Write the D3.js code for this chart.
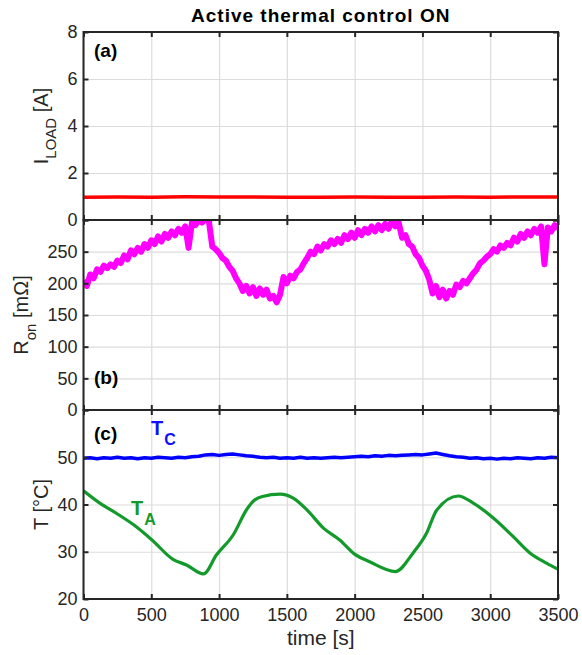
<!DOCTYPE html>
<html>
<head>
<meta charset="utf-8">
<script src="https://cdn.jsdelivr.net/npm/d3@7"></script>
<style>
  body { margin: 0; background: #fff; }
  svg { font-family: "Liberation Sans", Arial, Helvetica, sans-serif; }
</style>
</head>
<body>
<svg width="582" height="655"></svg>
<script>
// time ticks shared by all three panels
const timeTicks = [0, 500, 1000, 1500, 2000, 2500, 3000, 3500];

// (a) load current, sampled every 250 s
const loadTime = [0, 250, 500, 750, 1000, 1250, 1500, 1750, 2000, 2250, 2500, 2750, 3000, 3250, 3500];
const loadCurrent = [0.97, 0.98, 0.97, 0.99, 0.98, 0.98, 0.97, 0.97, 0.98, 0.97, 0.97, 0.98, 0.97, 0.98, 0.98];

// (b) on-resistance, read every 25 s off the picture
const ronTime = d3.range(0, 3525, 25);
const ronValues = [
  205, 196, 214, 208, 222, 218, 228, 224, 230, 226, 236, 232, 244, 238, 252, 246,
  256, 250, 262, 256, 268, 262, 274, 266, 278, 272, 282, 276, 286, 280, 290, 256,
  296, 292, 300, 296, 302, 298, 258, 254, 248, 240, 236, 226, 220, 208, 200, 188,
  196, 184, 194, 180, 192, 182, 190, 176, 180, 170, 182, 210, 200, 212, 208, 218,
  222, 232, 240, 250, 246, 258, 252, 262, 258, 268, 262, 270, 264, 276, 270, 280,
  272, 284, 276, 286, 280, 290, 282, 292, 284, 294, 286, 298, 290, 296, 272, 276,
  262, 258, 246, 240, 228, 220, 206, 184, 196, 178, 190, 176, 188, 182, 198, 194,
  204, 200, 208, 216, 222, 232, 236, 242, 246, 254, 250, 260, 256, 264, 260, 272,
  266, 278, 272, 282, 276, 286, 280, 290, 230, 288, 282, 292, 286
];

// (c) case temperature every 50 s and ambient temperature at read points
const caseTime = d3.range(0, 3550, 50);
const caseTemp = [
  49.8, 49.9, 49.7, 49.9, 49.8, 50.0, 49.8, 49.9, 49.7, 49.9, 49.8, 50.0, 49.9, 49.8, 50.0, 49.9, 50.1, 50.2,
  50.5, 50.6, 50.4, 50.6, 50.7, 50.5,
  50.3, 50.2, 50.0, 49.9, 50.0, 49.8, 49.9, 49.8, 50.0, 49.8, 49.9, 49.8, 49.9, 50.0, 49.9, 50.0, 50.1, 50.2, 50.1, 50.3, 50.2, 50.4, 50.3,
  50.4, 50.5, 50.6, 50.5, 50.7, 50.9, 50.6,
  50.3, 50.1, 50.0, 49.8, 49.9, 49.7, 49.8, 49.6, 49.8, 49.7, 49.9, 49.8, 49.7, 49.9, 49.8, 50.0, 49.9
];
const ambientTime = [0, 120, 245, 370, 505, 660, 760, 885, 980, 1105, 1205, 1260, 1320, 1450, 1550, 1650, 1770, 1890, 2000, 2110, 2300, 2430, 2530, 2605, 2765, 2875, 3025, 3170, 3295, 3415, 3500];
const ambientTemp = [42.9, 40.3, 38.1, 35.7, 32.5, 28.4, 27.2, 25.3, 29.3, 33.6, 39.0, 40.9, 41.7, 42.2, 41.3, 38.8, 35.0, 32.5, 29.5, 27.9, 25.8, 29.7, 33.9, 38.8, 41.8, 40.3, 37.1, 33.2, 29.7, 27.6, 26.3];

// y ticks of each panel (top tick label hidden under the panel above)
const loadTicks = [0, 2, 4, 6, 8];
const ronTicks = [0, 50, 100, 150, 200, 250, 300];
const tempTicks = [20, 30, 40, 50, 60];

const svg = d3.select("svg");
const left = 83.5;
const right = 558;
const innerWidth = right - left;
const textColor = "#262626";

const xScale = d3.scaleLinear().domain([0, 3500]).range([left, right]);

// panel layout
const panels = [
  { id: "a", top: 32, bottom: 220, domain: [0, 8], ticks: loadTicks, hideTop: false },
  { id: "b", top: 220, bottom: 410, domain: [0, 300], ticks: ronTicks, hideTop: true },
  { id: "c", top: 410, bottom: 599, domain: [20, 60], ticks: tempTicks, hideTop: true },
];

panels.forEach((p) => {
  p.y = d3.scaleLinear().domain(p.domain).range([p.bottom, p.top]);
  const h = p.bottom - p.top;
  // grid lines
  const grid = svg.append("g").attr("class", "grid");
  grid.append("g")
    .attr("transform", `translate(${left},0)`)
    .call(d3.axisLeft(p.y).tickValues(p.ticks).tickSize(-innerWidth).tickFormat(""));
  grid.append("g")
    .attr("transform", `translate(0,${p.bottom})`)
    .call(d3.axisBottom(xScale).tickValues(timeTicks).tickSize(-h).tickFormat(""));
  grid.selectAll(".domain").remove();
  grid.selectAll("line").attr("stroke", "#dcdcdc").attr("stroke-width", 1.2);
  // clip region for the data
  svg.append("clipPath").attr("id", "clip-" + p.id)
    .append("rect").attr("x", left).attr("y", p.top).attr("width", innerWidth).attr("height", h);
});

const [pa, pb, pc] = panels;

// series lines
const drawLine = (panel, xs, ys, color, width, curve) => {
  const line = d3.line()
    .x((d, i) => xScale(xs[i]))
    .y((d) => panel.y(d))
    .curve(curve || d3.curveLinear);
  svg.append("path")
    .datum(ys)
    .attr("clip-path", `url(#clip-${panel.id})`)
    .attr("fill", "none")
    .attr("stroke", color)
    .attr("stroke-width", width)
    .attr("stroke-linejoin", "round")
    .attr("d", line);
};

drawLine(pa, loadTime, loadCurrent, "#ff0000", 3.5);
drawLine(pb, ronTime, ronValues, "#ff00ff", 6);
drawLine(pc, caseTime, caseTemp, "#0000ff", 3.5);
drawLine(pc, ambientTime, ambientTemp, "#129a2a", 3.2, d3.curveMonotoneX);

// axes: ticks inside on all four sides, box drawn on top
panels.forEach((p, idx) => {
  const ax = svg.append("g").attr("class", "axes");
  const leftAxis = ax.append("g")
    .attr("transform", `translate(${left},0)`)
    .call(d3.axisLeft(p.y).tickValues(p.ticks).tickSize(-5).tickPadding(6));
  if (p.hideTop) {
    leftAxis.selectAll(".tick text").filter((d) => d === p.domain[1]).remove();
  }
  ax.append("g")
    .attr("transform", `translate(${right},0)`)
    .call(d3.axisRight(p.y).tickValues(p.ticks).tickSize(-5).tickFormat(""));
  ax.append("g")
    .attr("transform", `translate(0,${p.top})`)
    .call(d3.axisTop(xScale).tickValues(timeTicks).tickSize(-5).tickFormat(""));
  const bottomAxis = d3.axisBottom(xScale).tickValues(timeTicks).tickSize(-5).tickPadding(9)
    .tickFormat(idx < 2 ? "" : d3.format("d"));
  ax.append("g").attr("transform", `translate(0,${p.bottom})`).call(bottomAxis);
  ax.selectAll(".domain").remove();
  ax.selectAll(".tick line").attr("stroke", textColor).attr("stroke-width", 2);
  ax.selectAll(".tick text").attr("fill", textColor).attr("font-size", "18px");
  ax.append("rect")
    .attr("x", left).attr("y", p.top)
    .attr("width", innerWidth).attr("height", p.bottom - p.top)
    .attr("fill", "none").attr("stroke", textColor).attr("stroke-width", 2);
});

// panel letters
[["(a)", 57], ["(b)", 384], ["(c)", 440]].forEach(([t, y]) => {
  svg.append("text").attr("x", 94).attr("y", y)
    .attr("font-size", "19px").attr("font-weight", "bold").attr("fill", "#000").text(t);
});

// title
svg.append("text").attr("x", (left + right) / 2).attr("y", 22)
  .attr("text-anchor", "middle").attr("font-size", "19px").attr("font-weight", "bold")
  .attr("letter-spacing", "1px").attr("fill", "#000").text("Active thermal control ON");

// x label
svg.append("text").attr("x", (left + right) / 2).attr("y", 645)
  .attr("text-anchor", "middle").attr("font-size", "21px").attr("fill", textColor)
  .text("time [s]");

// y labels, rotated, with subscripts
const yLabel = (x, cy, main, sub, rest) => {
  const t = svg.append("text")
    .attr("transform", `translate(${x},${cy}) rotate(-90)`)
    .attr("text-anchor", "middle").attr("font-size", "20px").attr("fill", textColor);
  t.append("tspan").text(main);
  if (sub) t.append("tspan").attr("font-size", "15px").attr("dy", 8).text(sub);
  t.append("tspan").attr("dy", sub ? -8 : 0).text(rest);
};
yLabel(48, (pa.top + pa.bottom) / 2, "I", "LOAD", " [A]");
yLabel(28, (pb.top + pb.bottom) / 2, "R", "on", " [mΩ]");
yLabel(48, (pc.top + pc.bottom) / 2, "T [°C]", null, "");

// series annotations
const annotate = (x, y, main, sub, color) => {
  const t = svg.append("text").attr("x", x).attr("y", y)
    .attr("font-size", "20px").attr("font-weight", "bold").attr("fill", color);
  t.append("tspan").text(main);
  t.append("tspan").attr("font-size", "16px").attr("dy", 10).attr("dx", 1).text(sub);
};
annotate(151, 435, "T", "C", "#1010ff");
annotate(131, 515, "T", "A", "#129a2a");
</script>
</body>
</html>
